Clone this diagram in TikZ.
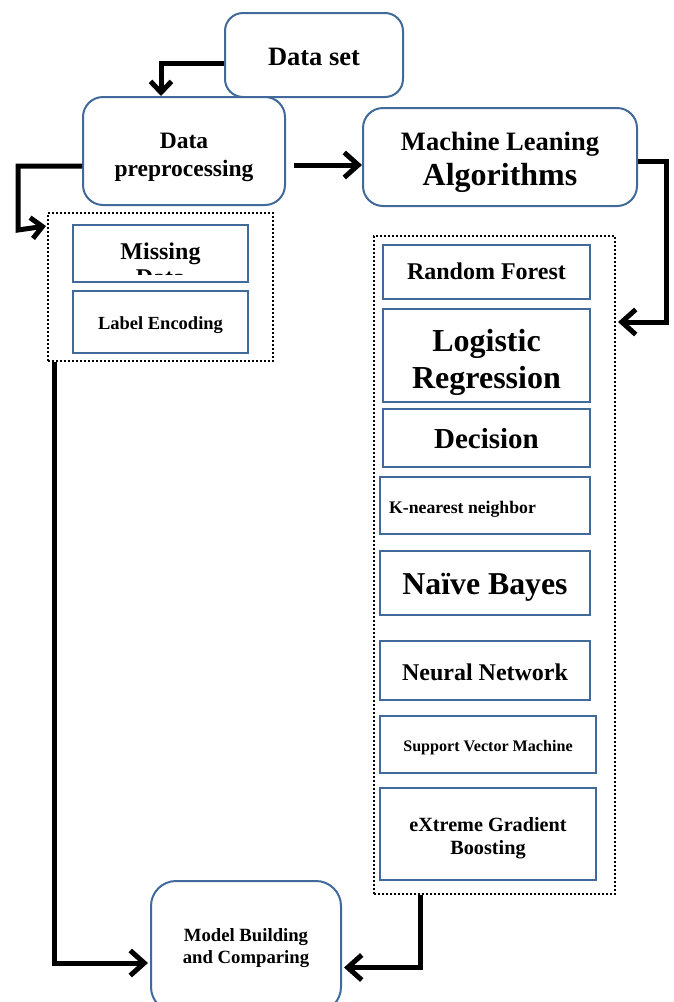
\documentclass[tikz,border=0pt]{standalone}
\usepackage{fontspec}
\setmainfont{Liberation Serif}
\usetikzlibrary{arrows.meta}
\definecolor{boxblue}{HTML}{41699A}
\begin{document}
\begin{tikzpicture}[x=1pt,y=-1pt,
  rbox/.style={draw=boxblue, line width=2pt, rounded corners=18pt, fill=white, inner sep=0pt},
  sbox/.style={draw=boxblue, line width=2pt, fill=white, inner sep=0pt},
  dotbox/.style={draw=black, line width=2pt, dash pattern=on 2pt off 2pt, inner sep=0pt},
  conn/.style={line width=5pt, line join=miter, -{Straight Barb[length=14pt,width=25pt,line width=5pt]}},
  smallhead/.style={-{Straight Barb[length=11pt,width=21pt,line width=5pt]}},
  lbl/.style={inner sep=0pt, font=\bfseries, align=center}]
\useasboundingbox (0,0) rectangle (673,1002);

% top nodes
\node[rbox, minimum width=178pt, minimum height=84pt] (dataset) at (314,55) {};
\node[lbl, font=\bfseries\fontsize{26.5}{30}\selectfont] (datasett) at ([yshift=-2pt]dataset.center) {Data set};
\node[rbox, rounded corners=20pt, minimum width=202pt, minimum height=108pt] (preproc) at (184,151) {};
\node[lbl, font=\bfseries\fontsize{23.5}{28}\selectfont] (preproct) at ([yshift=-6pt]preproc.center) {Data\\preprocessing};
\node[rbox, rounded corners=20pt, minimum width=274pt, minimum height=98pt] (ml) at (500,157) {};
\node[lbl, font=\bfseries\fontsize{26.5}{35}\selectfont] (mlt) at ([yshift=-5pt]ml.center) {Machine Leaning\\{\fontsize{32}{35}\selectfont Algorithms}};

% left dotted group
\node[dotbox, minimum width=225pt, minimum height=148pt] (leftdot) at (160.5,287) {};
\node[sbox, minimum width=175pt, minimum height=57pt] (missing) at (160.5,253.5) {};
\node[lbl, font=\bfseries\fontsize{24}{28}\selectfont, anchor=base] (missingt) at (160.5,259) {Missing};
\begin{scope}
  \clip (75,226) rectangle (246,274);
  \node[lbl, font=\bfseries\fontsize{24}{28}\selectfont, anchor=base] (datat) at (160.5,285) {Data};
\end{scope}
\node[sbox, minimum width=175pt, minimum height=62pt] (label) at (160.5,322) {};
\node[lbl, font=\bfseries\fontsize{18.5}{22}\selectfont] (labelt) at ([yshift=-3pt]label.center) {Label Encoding};

% right dotted group
\node[dotbox, minimum width=241pt, minimum height=658pt] (rightdot) at (494.5,565) {};
\node[sbox, minimum width=207pt, minimum height=54pt] (rf) at (486.5,272) {};
\node[lbl, font=\bfseries\fontsize{24}{28}\selectfont] (rft) at ([yshift=1pt]rf.center) {Random Forest};
\node[sbox, minimum width=207pt, minimum height=93pt] (lr) at (486.5,355.5) {};
\node[lbl, font=\bfseries\fontsize{32}{37}\selectfont] (lrt) at ([yshift=-7pt]lr.center) {Logistic\\Regression};
\node[sbox, minimum width=207pt, minimum height=58pt] (dec) at (486.5,438) {};
\node[lbl, font=\bfseries\fontsize{29}{33}\selectfont] (dect) at ([yshift=-1pt]dec.center) {Decision};
\node[sbox, minimum width=210pt, minimum height=57pt] (knn) at (485,505.5) {};
\node[lbl, anchor=west, font=\bfseries\fontsize{17.7}{21}\selectfont] (knnt) at (389,509) {K-nearest neighbor};
\node[sbox, minimum width=210pt, minimum height=64pt] (nb) at (485,583) {};
\node[lbl, font=\bfseries\fontsize{31.8}{36}\selectfont] (nbt) at ([yshift=-4pt]nb.center) {Naïve Bayes};
\node[sbox, minimum width=210pt, minimum height=59pt] (nn) at (485,670.5) {};
\node[lbl, font=\bfseries\fontsize{24}{28}\selectfont] (nnt) at ([yshift=-2pt]nn.center) {Neural Network};
\node[sbox, minimum width=216pt, minimum height=57pt] (svm) at (488,744.5) {};
\node[lbl, font=\bfseries\fontsize{16.1}{19}\selectfont] (svmt) at ([yshift=-3pt]svm.center) {Support Vector Machine};
\node[sbox, minimum width=216pt, minimum height=92pt] (xgb) at (488,834) {};
\node[lbl, font=\bfseries\fontsize{20.2}{23}\selectfont] (xgbt) at ([yshift=-4pt]xgb.center) {eXtreme Gradient\\Boosting};

% bottom node
\node[rbox, rounded corners=25pt, minimum width=190pt, minimum height=131pt] (model) at (246,946.5) {};
\node[lbl, font=\bfseries\fontsize{18.7}{22}\selectfont] (modelt) at ([yshift=-1.5pt]model.center) {Model Building\\and Comparing};

% connectors
\draw[conn, smallhead] ([yshift=-8pt]dataset.west) -| ([xshift=-23pt]preproc.north);
\draw[conn] ([xshift=8pt,yshift=-14pt]preproc.east) -- ([yshift=-8pt]ml.west);
\draw[conn] ([yshift=-4pt]ml.east) -| ([xshift=50pt,yshift=243pt]rightdot.east) -- ([xshift=2pt,yshift=243pt]rightdot.east);
\draw[conn, smallhead] ([yshift=-15pt]preproc.west) -- (18,166) -- (18,230) -- ([xshift=-1pt,yshift=-14pt]leftdot.north west);
\draw[conn] ([xshift=7pt]leftdot.south west) |- ([xshift=-2pt,yshift=-16.5pt]model.west);
\draw[conn] ([xshift=-74.5pt]rightdot.south) |- ([xshift=2pt,yshift=-21pt]model.east);
\end{tikzpicture}
\end{document}
